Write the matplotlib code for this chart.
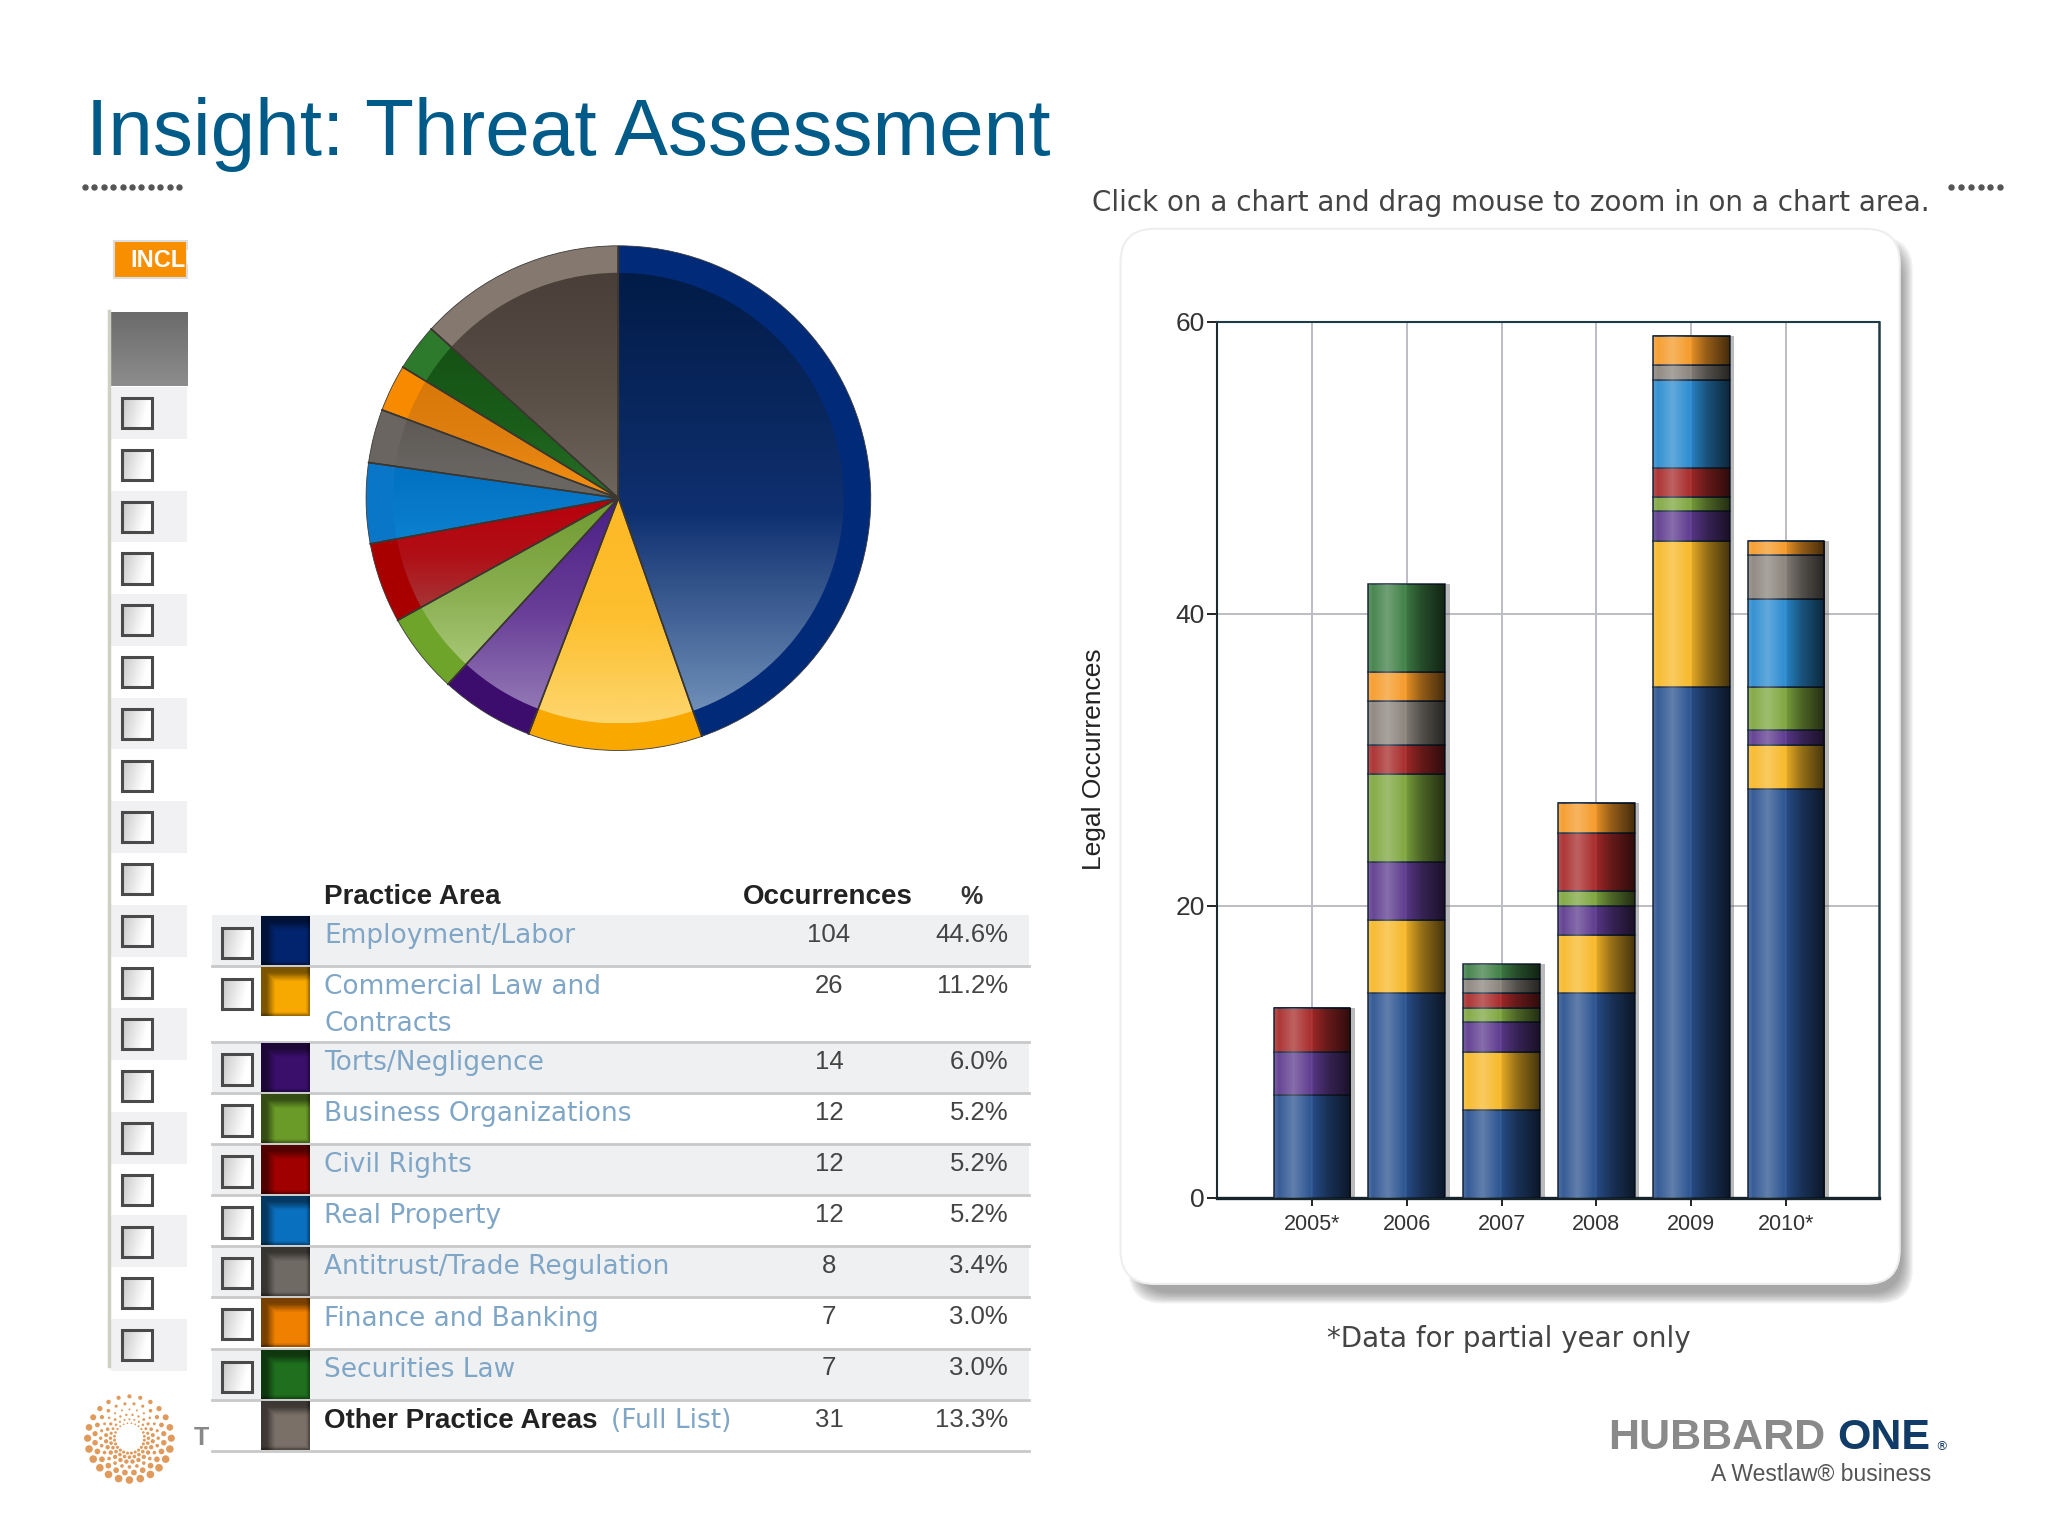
import numpy as np
import matplotlib
matplotlib.use("Agg")
import matplotlib.pyplot as plt
from matplotlib.patches import Rectangle, FancyBboxPatch
from matplotlib.colors import to_rgb, LinearSegmentedColormap

# ---------- data ----------
years = ["2005*", "2006", "2007", "2008", "2009", "2010*"]
series_names = ["Employment/Labor", "Commercial Law and\nContracts", "Torts/Negligence",
                "Business Organizations", "Civil Rights", "Real Property",
                "Antitrust/Trade Regulation", "Finance and Banking", "Securities Law"]
employment = [7, 14, 6, 14, 35, 28]
commercial = [0, 5, 4, 4, 10, 3]
torts = [3, 4, 2, 2, 2, 1]
business = [0, 6, 1, 1, 1, 3]
civil = [3, 2, 1, 4, 2, 0]
real_property = [0, 0, 0, 0, 6, 6]
antitrust = [0, 3, 1, 0, 1, 3]
finance = [0, 2, 0, 2, 2, 1]
securities = [0, 6, 1, 0, 0, 0]
bar_series = [employment, commercial, torts, business, civil, real_property, antitrust, finance, securities]
bar_colors = ["#2a5290", "#f7b828", "#5d3a8e", "#7ea63e", "#a82a2a", "#2a8bd0", "#8a847c", "#f59a28", "#3f7f46"]

occurrences = [104, 26, 14, 12, 12, 12, 8, 7, 7, 31]
percents = ["44.6%", "11.2%", "6.0%", "5.2%", "5.2%", "5.2%", "3.4%", "3.0%", "3.0%", "13.3%"]
rim_colors = ["#012a78", "#f9a800", "#3d0d6e", "#6ea42a", "#a80000", "#0a76c8", "#6a6560", "#f88a00", "#2d7a2d", "#85786e"]
inner_top = ["#021c48", "#fdb825", "#4a1f86", "#6f9a30", "#b8000a", "#0070c0", "#5f5a55", "#d87808", "#155215", "#4a3f38"]
inner_mid = ["#0f3070", "#fdc030", "#6a3f98", "#88ae4e", "#b01018", "#0878c8", "#666360", "#e08010", "#1a5e1a", "#5a4f47"]
inner_bot = ["#6f8fb8", "#fdd66e", "#9278b5", "#a8c676", "#a53535", "#0a82d0", "#6b6864", "#f59010", "#287028", "#6f665e"]
swatch_colors = ["#02246e", "#f8a800", "#3a0f6c", "#6a9a28", "#a00000", "#0a70c0", "#6f6a64", "#f08000", "#1f6f1f", "#7a7068"]

S = 2048 / 1566.4  # preview px -> output px
fig = plt.figure(figsize=(20.48, 15.36), dpi=100, facecolor="white")
ARIAL = "Liberation Sans"
DV = "DejaVu Sans"

W, H = 2048 / S, 1536 / S
def rect(l, t, r, b):
    return [l / W, 1 - b / H, (r - l) / W, (b - t) / H]

# ---------- canvas in page coordinates ----------
bg = fig.add_axes([0, 0, 1, 1], zorder=0)
bg.set_xlim(0, W); bg.set_ylim(H, 0); bg.axis("off")

bg.text(66, 103, "Insight: Threat Assessment", fontsize=57.7, family=ARIAL, color="#005b88", va="center", ha="left")
bg.plot(np.arange(65, 144, 7.2), [143] * 11, ls="none", marker="o", ms=3.6, color="#555555")
bg.plot(np.arange(1492, 1531, 7.6), [143] * 6, ls="none", marker="o", ms=3.6, color="#555555")

# left clipped panel
bg.add_patch(Rectangle((87, 184), 56, 29, fc="#f88f00", ec="#dddddd", lw=1.5))
t = bg.text(100, 199, "INCLUDE", fontsize=17, weight="bold", family=ARIAL, color="white", va="center")
t.set_clip_path(Rectangle((87, 184), 56, 29, transform=bg.transData))
bg.imshow(np.linspace(0.42, 0.55, 32)[:, None], extent=(84, 143, 295, 239), cmap="gray", vmin=0, vmax=1, aspect="auto", zorder=2)
bg.plot([83, 83], [238, 1045], color="#cfcfc4", lw=2.5)
uu, vv = np.meshgrid(np.linspace(0, 1, 24), np.linspace(0, 1, 24))
box_grad = np.clip(0.78 + 0.3 * (uu * 0.8 + vv * 0.2), 0, 1)
def checkbox(cx, cy, s=11.5):
    bg.imshow(box_grad, extent=(cx - s, cx + s, cy + s, cy - s), cmap="gray", vmin=0, vmax=1, aspect="auto", zorder=3)
    bg.add_patch(Rectangle((cx - s, cy - s), 2 * s, 2 * s, fc="none", ec="#4a4a4a", lw=2.2, zorder=4))
for i in range(19):
    cy = 316 + i * 39.6
    if i % 2 == 0:
        bg.add_patch(Rectangle((85, cy - 20), 58, 39.6, fc="#f1f1f3", ec="none"))
    checkbox(105, cy)

# table
row_lines = [700, 739, 797, 836, 875, 914, 953, 992, 1032, 1071, 1110]
text_y = [716, 755, 813, 852, 891, 930, 969, 1009, 1048, 1087]
num_y = [715, 754, 812, 851, 890, 929, 968, 1007, 1046, 1086]
table_color = "#7fa6c6"
bg.text(248, 686, "Practice Area", fontsize=20, family=ARIAL, weight="bold", color="#222222", va="center")
bg.text(633, 686, "Occurrences", fontsize=20, family=ARIAL, weight="bold", color="#222222", va="center", ha="center")
bg.text(743, 686, "%", fontsize=18, family=ARIAL, weight="bold", color="#333333", va="center", ha="center")
names = series_names + ["Other Practice Areas"]
for i in range(10):
    top, bot = row_lines[i], row_lines[i + 1]
    if i % 2 == 0 and i < 9:
        bg.add_patch(Rectangle((162, top), 625, bot - top, fc="#eff0f1", ec="none"))
    bg.plot([162, 787], [bot, bot], color="#c9c9c9", lw=2, zorder=2)
    if i < 9:
        checkbox(181.5, top + 21)
    # swatch
    c = np.array(to_rgb(swatch_colors[i]))
    u, v = np.meshgrid(np.linspace(0, 1, 28), np.linspace(0, 1, 28))
    shade = 0.5 + 0.5 * np.clip((np.minimum(u, v) - 0.1) / 0.18, 0, 1)
    shade = shade * np.clip(0.65 + np.minimum(1 - u, 1 - v) * 6, 0, 1)
    bg.imshow(c[None, None, :] * shade[:, :, None], extent=(200, 237, top + 38, top + 1), aspect="auto", zorder=3)
    if i < 9:
        bg.text(248, text_y[i], names[i].split("\n")[0], fontsize=19, family=DV, color=table_color, va="center", zorder=5)
        if "\n" in names[i]:
            bg.text(248, text_y[i] + 28, names[i].split("\n")[1], fontsize=19, family=DV, color=table_color, va="center", zorder=5)
    else:
        bg.text(248, text_y[i], names[i], fontsize=20, family=ARIAL, weight="bold", color="#222222", va="center", zorder=5)
        bg.text(467, text_y[i], "(Full List)", fontsize=19, family=DV, color=table_color, va="center", zorder=5)
    bg.text(634, num_y[i], str(occurrences[i]), fontsize=18.5, family=ARIAL, color="#444444", va="center", ha="center", zorder=5)
    bg.text(771, num_y[i], percents[i], fontsize=18.5, family=ARIAL, color="#444444", va="center", ha="right", zorder=5)

# right notes and card
bg.text(835, 155, "Click on a chart and drag mouse to zoom in on a chart area.", fontsize=20, family=DV, color="#444444", va="center")
bg.text(1154, 1024, "*Data for partial year only", fontsize=20, family=DV, color="#444444", va="center", ha="center")
for k in range(9, 0, -1):
    bg.add_patch(FancyBboxPatch((872 - k, 190 - k), 582 + 2 * k, 798 + 2 * k,
                                boxstyle="round,pad=0,rounding_size=26", fc="#555555", ec="none", alpha=0.075, zorder=1))
bg.add_patch(FancyBboxPatch((857, 175), 596, 807, boxstyle="round,pad=0,rounding_size=26",
                            fc="white", ec="#eeeeee", lw=1.5, zorder=2))

# logos
radii = [32, 26.5, 22, 18, 14.5, 11.5]
counts = [24, 24, 24, 24, 24, 24]
sizes = [30, 17, 7, 10, 7, 5]
for n, (r, m, sz) in enumerate(zip(radii, counts, sizes)):
    a = np.linspace(0, 2 * np.pi, m, endpoint=False) + n * np.pi / m
    fade = 0.3 + 0.7 * np.clip(0.5 + 0.6 * np.sin(a) + 0.35 * np.cos(a) ** 2, 0, 1)
    bg.scatter(99 + r * np.cos(a), 1100 + r * np.sin(a), s=sz * fade, color="#dd8f4a", alpha=0.9, lw=0, zorder=3)
t2 = bg.text(148, 1100, "T", fontsize=18, family=ARIAL, weight="bold", color="#888888", va="center")
t2.set_clip_path(Rectangle((140, 1080), 18, 40, transform=bg.transData))
bg.text(1230, 1100, "HUBBARD", fontsize=31, family=ARIAL, weight="bold", color="#8a8a8a", va="center")
bg.text(1405, 1100, "ONE", fontsize=31, family=ARIAL, weight="bold", color="#123c68", va="center")
bg.text(1480, 1106, "®", fontsize=9, family=DV, color="#123c68", va="center")
bg.text(1477, 1128, "A Westlaw® business", fontsize=16.5, family=ARIAL, color="#555555", va="center", ha="right")
bg.set_xlim(0, W); bg.set_ylim(H, 0)

# ---------- pie ----------
pa = fig.add_axes(rect(280, 188, 666, 574), zorder=3)
pa.pie(occurrences, startangle=90, counterclock=False, radius=1.0, colors=rim_colors,
       wedgeprops=dict(edgecolor="#3a3a3a", linewidth=0.6))
inner, _ = pa.pie(occurrences, startangle=90, counterclock=False, radius=0.893, colors=rim_colors,
                  wedgeprops=dict(edgecolor="none"))
for w, a_c, b_c, c_c in zip(inner, inner_top, inner_mid, inner_bot):
    th = np.radians(np.linspace(w.theta1, w.theta2, 90))
    ys = np.r_[w.r * np.sin(th), 0]
    cm = LinearSegmentedColormap.from_list("g", [(0, a_c), (0.55, b_c), (1, c_c)])
    im = pa.imshow(np.linspace(0, 1, 128)[:, None], extent=(-1, 1, ys.min(), ys.max()), origin="upper",
                   cmap=cm, aspect="auto", zorder=3)
    im.set_clip_path(w)
    for ang in (w.theta1, w.theta2):
        pa.plot([0, np.cos(np.radians(ang))], [0, np.sin(np.radians(ang))], color="#3c3630", lw=1.1, zorder=4)
pa.set_xlim(-1, 1); pa.set_ylim(-1, 1); pa.set_aspect("auto"); pa.axis("off")
for ch in pa.patches:
    ch.set_clip_on(False)

# ---------- stacked bars ----------
ax = fig.add_axes(rect(931, 246, 1437, 916), zorder=3)
x = np.arange(len(years))
width = 0.81
totals = np.sum(bar_series, axis=0)
ax.bar(x + 0.05, totals, width=width, color="#666666", alpha=0.45, zorder=2)
overlay = np.zeros((1, 100, 4))
pos = np.linspace(0, 1, 100)
white = np.interp(pos, [0, 0.25, 0.5], [0, 0.26, 0])
black = np.interp(pos, [0, 0.1, 0.45, 0.7, 1], [0.18, 0, 0, 0.4, 0.72])
overlay[0, :, :3] = (white > 0)[:, None] * 1.0
overlay[0, :, 3] = np.maximum(white, black)
bottom = np.zeros(len(years))
for vals, col in zip(bar_series, bar_colors):
    rs = ax.bar(x, vals, width=width, bottom=bottom, color=col, edgecolor="#1a2a40", linewidth=1.1, zorder=3)
    for r, v in zip(rs, vals):
        if v:
            im = ax.imshow(overlay, extent=(r.get_x(), r.get_x() + r.get_width(), r.get_y(), r.get_y() + r.get_height()),
                           aspect="auto", zorder=4)
            im.set_clip_path(r)
    bottom = bottom + np.array(vals)
ax.set_xlim(-1, 5.98); ax.set_ylim(0, 60)
ax.set_xticks(x, years)
ax.set_yticks([0, 20, 40, 60])
ax.set_axisbelow(True)
ax.grid(True, color="#bcbcc4", lw=1.4, zorder=0)
ax.tick_params(axis="x", length=6, width=1.4, color="#222222", pad=6, labelsize=15.5, labelcolor="#333333")
ax.tick_params(axis="y", length=7, width=1.4, color="#222222", pad=2, labelsize=19, labelcolor="#333333")
for lab in ax.get_xticklabels() + ax.get_yticklabels():
    lab.set_family(ARIAL)
ax.set_ylabel("Legal Occurrences", fontsize=19, family=ARIAL, color="#222222", labelpad=50)
ax.patch.set_alpha(0)
for side, lw, c in [("left", 1.5, "#1b2b30"), ("bottom", 2.4, "#15232a"), ("top", 1.5, "#1e3a44"), ("right", 1.8, "#1e3a44")]:
    ax.spines[side].set_linewidth(lw); ax.spines[side].set_color(c)

fig.savefig("out.png", dpi=100)
